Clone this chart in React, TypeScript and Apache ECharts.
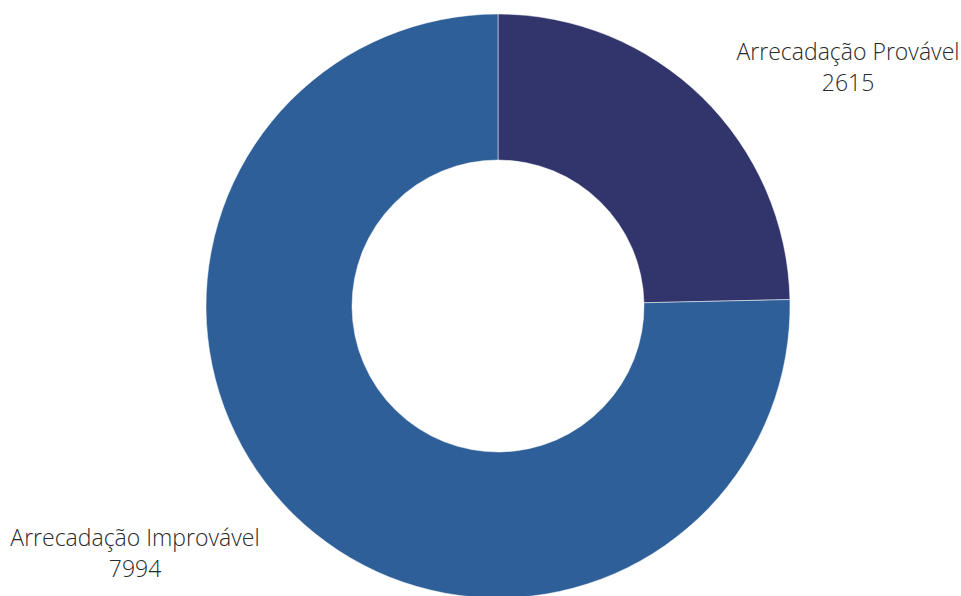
import React, { useEffect, useRef } from "react";
import * as echarts from "echarts";

const categories = ["Arrecadação Provável", "Arrecadação Improvável"];
const values = [2615, 7994];
const colors = ["#32356c", "#2e5f98"];

export default function App() {
  const ref = useRef<HTMLDivElement>(null);
  useEffect(() => {
    document.body.style.margin = "0";
    const chart = echarts.init(ref.current!, null, { renderer: "svg" });
    const labelPos = [
      { x: 848, y: 66 },
      { x: 135, y: 552 },
    ];
    chart.setOption({
      animation: false,
      series: [
        {
          type: "pie",
          center: [498, 306],
          radius: [146, 292],
          startAngle: 90,
          clockwise: true,
          itemStyle: { borderColor: "#ffffff", borderWidth: 0.5 },
          label: {
            show: true,
            position: "outside",
            formatter: "{b}\n{c}",
            fontFamily: "Open Sans",
            fontWeight: 300,
            fontSize: 23,
            lineHeight: 31,
            color: "#2a2a2a",
            align: "center",
            overflow: "none",
            width: 300,
          },
          labelLine: { show: false },
          labelLayout: (params: any) => ({
            x: labelPos[params.dataIndex].x,
            y: labelPos[params.dataIndex].y,
            align: "center",
            verticalAlign: "middle",
          }),
          emphasis: { disabled: true },
          data: categories.map((name, i) => ({
            name,
            value: values[i],
            itemStyle: { color: colors[i] },
          })),
        },
      ],
    });
    return () => chart.dispose();
  }, []);
  return <div ref={ref} style={{ width: 961, height: 596 }} />;
}
